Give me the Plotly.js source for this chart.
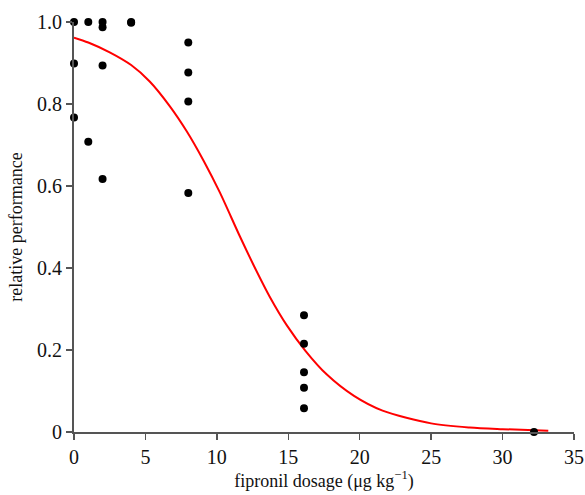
<!DOCTYPE html>
<html>
<head>
<meta charset="utf-8">
<script src="https://cdn.plot.ly/plotly-3.0.1.min.js"></script>
<style>html,body{margin:0;padding:0;background:#fff;}#chart{width:585px;height:495px;}</style>
</head>
<body>
<div id="chart"></div>
<script>
// observed data points
const doseX = [0, 0, 0, 1, 1, 2, 2, 2, 2, 4, 4, 8, 8, 8, 8, 16.1, 16.1, 16.1, 16.1, 16.1, 32.2];
const perfY = [1.0, 0.899, 0.767, 1.0, 0.708, 1.0, 0.987, 0.894, 0.617, 1.0, 0.998, 0.950, 0.877, 0.806, 0.583, 0.285, 0.215, 0.146, 0.108, 0.058, 0.0];

// fitted curve
const curveX = [0, 1, 2.5, 4, 5.3, 6.7, 7.9, 9.1, 10.2, 11.6, 12.6, 13.7, 14.9, 16.2, 17.7, 19.6, 21.6, 25, 27.7, 30, 33.2];
const curveY = [0.962, 0.950, 0.926, 0.895, 0.855, 0.795, 0.733, 0.66, 0.585, 0.478, 0.405, 0.330, 0.260, 0.198, 0.140, 0.088, 0.052, 0.021, 0.011, 0.007, 0.003];

// tick labels
const xTicks = [0, 5, 10, 15, 20, 25, 30, 35];
const yTicks = [0, 0.2, 0.4, 0.6, 0.8, 1.0];
const yTickText = ['0', '0.2', '0.4', '0.6', '0.8', '1.0'];

const fam = '"Liberation Serif", "Times New Roman", serif';
const tickFont = {family: fam, size: 20, color: '#111'};
const titleFont = {family: fam, size: 18, color: '#111'};

const traces = [
  {x: curveX, y: curveY, mode: 'lines', line: {color: '#ff0000', width: 2, shape: 'spline', smoothing: 0.8}, hoverinfo: 'skip', cliponaxis: false},
  {x: doseX, y: perfY, mode: 'markers', marker: {color: '#000', size: 8}, cliponaxis: false}
];

const layout = {
  width: 585, height: 495,
  margin: {l: 74, r: 11, t: 22, b: 63},
  showlegend: false,
  paper_bgcolor: '#fff', plot_bgcolor: '#fff',
  font: tickFont,
  xaxis: {
    range: [0, 35], tickvals: xTicks, ticktext: xTicks.map(String),
    showgrid: false, zeroline: false, showline: true, linecolor: '#555', linewidth: 2,
    ticks: 'outside', ticklen: 6, tickwidth: 1.5, tickcolor: '#555',
    tickfont: tickFont,
    title: {text: 'fipronil dosage (μg kg<sup>−1</sup>)', font: titleFont, standoff: 6}
  },
  yaxis: {
    range: [0, 1], tickvals: yTicks, ticktext: yTickText,
    showgrid: false, zeroline: false, showline: true, linecolor: '#555', linewidth: 2,
    ticks: 'outside', ticklen: 6, tickwidth: 1.5, tickcolor: '#555',
    tickfont: tickFont,
    title: {text: 'relative performance', font: titleFont, standoff: 10}
  }
};

Plotly.newPlot('chart', traces, layout, {displayModeBar: false, staticPlot: true});
</script>
</body>
</html>
